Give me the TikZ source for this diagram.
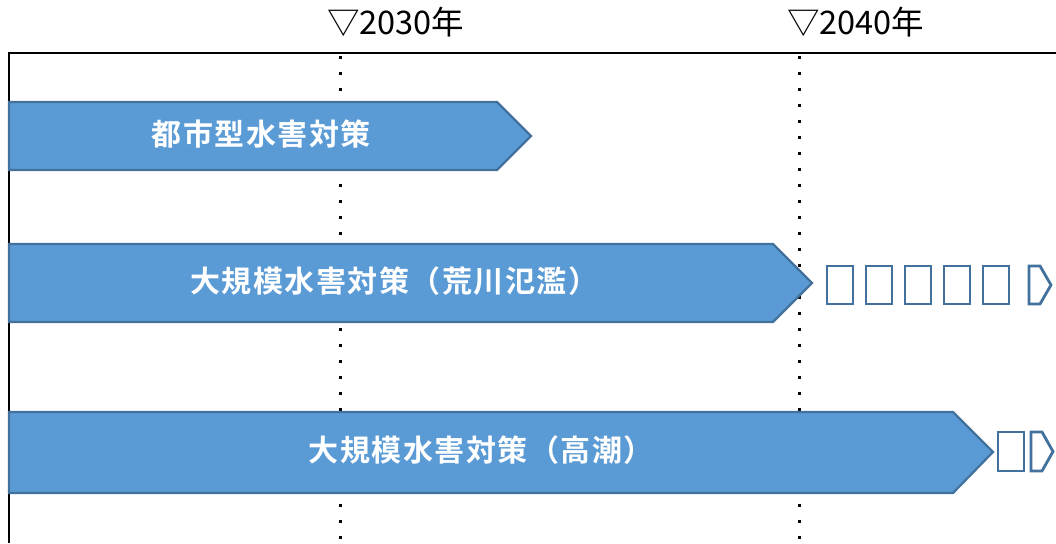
\documentclass[tikz,border=0pt]{standalone}
\usepackage{fontspec}
\setmainfont{Noto Sans CJK JP}
\newfontfamily\jpbold[LetterSpace=5]{Noto Sans CJK JP Bold}
\definecolor{barfill}{HTML}{5B9BD5}
\definecolor{barline}{HTML}{41719C}
\tikzset{
  bar/.style={fill=barfill, draw=barline, line width=2.2pt, line join=miter},
  bartext/.style={text=white, font=\jpbold\fontsize{30}{33}\selectfont, inner sep=0pt, anchor=center},
  yearlabel/.style={font=\fontsize{32.5}{35}\selectfont, anchor=base west, inner sep=0pt},
  frameline/.style={line width=2.6pt, black},
  yearline/.style={line width=3pt, dash pattern=on 3pt off 13pt, black},
  tofu/.style={draw=barline, line width=2.8pt, fill=white},
}
\begin{document}
\begin{tikzpicture}[x=1pt,y=-1pt]
\useasboundingbox (0,0) rectangle (1056,543);
% frame
\coordinate (fTL) at (9,53);
\coordinate (fTR) at (1056,53);
\coordinate (fBL) at (9,543);
\draw[frameline] (fBL) -- (fTL) -- (fTR);
% year markers
\coordinate (y30t) at (340,56);
\coordinate (y30b) at (340,543);
\coordinate (y40t) at (799.5,56);
\coordinate (y40b) at (799.5,543);
\draw[yearline] (y30t) -- (y30b);
\draw[yearline] (y40t) -- (y40b);
\node[yearlabel] (l30) at (327,35) {▽2030年};
\node[yearlabel] (l40) at (787,35) {▽2040年};
% bars
\draw[bar] (9,102) -- (497,102) -- (531,136) -- (497,170) -- (9,170) -- cycle;
\node[bartext] (t1) at (261,134) {都市型水害対策};
\draw[bar] (9,244) -- (773,244) -- (812,283) -- (773,322) -- (9,322) -- cycle;
\node[bartext] (t2) at (394,281) {大規模水害対策（荒川氾濫）};
\draw[bar] (9,412) -- (953,412) -- (993,452) -- (953,493) -- (9,493) -- cycle;
\node[bartext] (t3) at (481,450) {大規模水害対策（高潮）};
% missing-glyph boxes row 2
\foreach \x in {827,866,905,944,983}{
  \draw[tofu] (\x,266) rectangle ++(26,38);
}
\draw[tofu] (1029,266) -- (1040,266) -- (1051,285) -- (1040,304) -- (1029,304) -- cycle;
% row 3
\draw[tofu] (998,432) rectangle ++(26,39);
\draw[tofu] (1031,432) -- (1042,432) -- (1053,451.5) -- (1042,471) -- (1031,471) -- cycle;
\end{tikzpicture}
\end{document}
